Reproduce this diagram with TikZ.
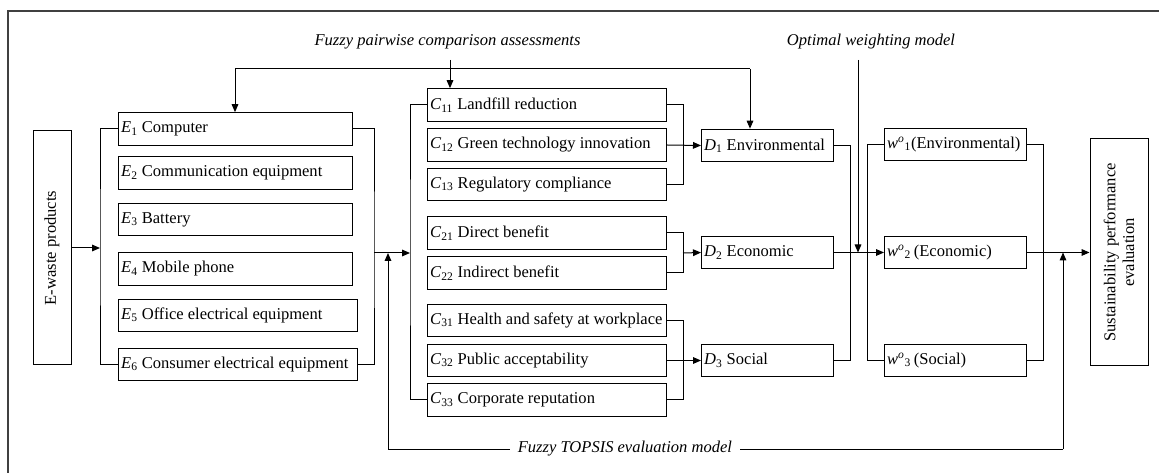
\documentclass[tikz,border=0pt]{standalone}
\usepackage{fontspec}
\setmainfont{Liberation Serif}
\usetikzlibrary{arrows.meta}

\newcommand{\ix}[2]{\textit{#1}\textsubscript{#2}}
\newcommand{\wo}[1]{\textit{w}\textsuperscript{\textit{o}}\textsubscript{#1}}

\tikzset{every picture/.style={line width=0.75pt}}
\tikzset{
  itembox/.style={draw, anchor=west, minimum height=24.5pt, inner xsep=2pt,
    execute at begin node={\hbox to #1\bgroup}, execute at end node={\hfil\egroup}},
  sidebox/.style={draw, rotate=90, align=center, minimum width=#1},
  modeltext/.style={font=\fontsize{12.4}{14}\selectfont\itshape},
  tip/.style={-{Triangle[length=6pt,width=5pt]}},
}

\begin{document}
\begin{tikzpicture}[x=0.75pt,y=0.75pt,yscale=-1,xscale=1,font=\fontsize{12.4}{14}\selectfont]
  \useasboundingbox (0,0) rectangle (1159,473);

  %Frame
  \draw [line width=1.2pt, black!75] (8,473) -- (8,11) -- (1159,11) ;

  %Input and output boxes
  \node [sidebox=175.5pt, minimum height=28.5pt] (waste) at (52,248) {E-waste products};
  \node [sidebox=170.25pt, minimum height=43.5pt] (sus) at (1119,252.5) {Sustainability performance\\evaluation};

  %E-waste categories
  \node [itembox=171.5pt] (e1) at (118,129) {\ix{E}{1} Computer};
  \node [itembox=171.5pt] (e2) at (118,173) {\ix{E}{2} Communication equipment};
  \node [itembox=171.5pt] (e3) at (118,219.5) {\ix{E}{3} Battery};
  \node [itembox=171.5pt] (e4) at (118,269) {\ix{E}{4} Mobile phone};
  \node [itembox=175.25pt] (e5) at (118,315.5) {\ix{E}{5} Office electrical equipment};
  \node [itembox=175.25pt] (e6) at (118,364.5) {\ix{E}{6} Consumer electrical equipment};

  %Criteria
  \node [itembox=175.25pt] (c11) at (427,105) {\ix{C}{11} Landfill reduction};
  \node [itembox=175.25pt] (c12) at (427,145) {\ix{C}{12} Green technology innovation};
  \node [itembox=175.25pt] (c13) at (427,184.5) {\ix{C}{13} Regulatory compliance};
  \node [itembox=175.25pt] (c21) at (427,233) {\ix{C}{21} Direct benefit};
  \node [itembox=175.25pt] (c22) at (427,273) {\ix{C}{22} Indirect benefit};
  \node [itembox=175.25pt] (c31) at (427,320.5) {\ix{C}{31} Health and safety at workplace};
  \node [itembox=175.25pt] (c32) at (427,360.5) {\ix{C}{32} Public acceptability};
  \node [itembox=175.25pt] (c33) at (427,400) {\ix{C}{33} Corporate reputation};

  %Dimensions
  \node [itembox=95pt] (d1) at (701,145.5) {\ix{D}{1} Environmental};
  \node [itembox=95pt] (d2) at (701,252.5) {\ix{D}{2} Economic};
  \node [itembox=95pt] (d3) at (701,360.5) {\ix{D}{3} Social};

  %Weights
  \node [itembox=102.5pt] (w1) at (884,144.5) {\wo{1}(Environmental)};
  \node [itembox=102.5pt] (w2) at (884,252.5) {\wo{2}\,(Economic)};
  \node [itembox=102.5pt] (w3) at (884,360.5) {\wo{3}\,(Social)};

  %Model labels
  \node [modeltext] (pair) at (447.5,42) {Fuzzy pairwise comparison assessments};
  \node [modeltext] (opt) at (871,42) {Optimal weighting model};

  %Joints
  \coordinate (ein) at (100,248);
  \coordinate (eout) at (374,253);
  \coordinate (cin) at (410,253);
  \coordinate (g1) at (683,145);
  \coordinate (g2) at (683,253);
  \coordinate (g3) at (683,360.5);
  \coordinate (dout) at (850,253);
  \coordinate (win) at (867,253);
  \coordinate (wout) at (1043,253);
  \coordinate (ptop) at (450,60);
  \coordinate (pl) at (235,69);
  \coordinate (pr) at (750,69);
  \coordinate (otop) at (858,60);
  \coordinate (tl) at (388,449);
  \coordinate (tr) at (1063,449);

  %Brackets
  \draw (e1.west) -| (ein) |- (e6.west) ;
  \draw (e1.east) -| (eout) |- (e6.east) ;
  \draw (c11.west) -| (cin) |- (c33.west) ;
  \draw (c11.east) -| (g1) |- (c13.east) ;
  \draw (c21.east) -| (g2) |- (c22.east) ;
  \draw (c31.east) -| (g3) |- (c33.east) ;
  \draw (d1.east) -| (dout) |- (d3.east) ;
  \draw (w1.west) -| (win) |- (w3.west) ;
  \draw (w1.east) -| (wout) |- (w3.east) ;

  %Flow arrows
  \draw [tip] (waste.south) -- (ein) ;
  \draw [tip] (eout) -- (cin) ;
  \draw [tip] (c12.east) -- (d1.west) ;
  \draw [tip] (g2) -- (d2.west) ;
  \draw [tip] (c32.east) -- (d3.west) ;
  \draw [tip] (d2.east) -- (w2.west) ;
  \draw [tip] (w2.east) -- (sus.north) ;

  %Pairwise comparison feedback
  \draw [tip] (ptop) -- (ptop |- c11.north) ;
  \draw [tip] (pl) -- (pl |- e1.north) ;
  \draw [tip] (pr) -- (pr |- d1.north) ;
  \draw (pl) -- (pr) ;

  %Optimal weighting
  \draw [tip] (otop) -- (otop |- w2.west) ;

  %Fuzzy TOPSIS
  \draw [tip] (tl) -- (tl |- cin) ;
  \draw [tip] (tr) -- (tr |- sus.north) ;
  \draw (tl) -- (tr) node [pos=0.351, fill=white, inner xsep=6pt, modeltext] (topsis) {Fuzzy TOPSIS evaluation model} ;

\end{tikzpicture}
\end{document}
